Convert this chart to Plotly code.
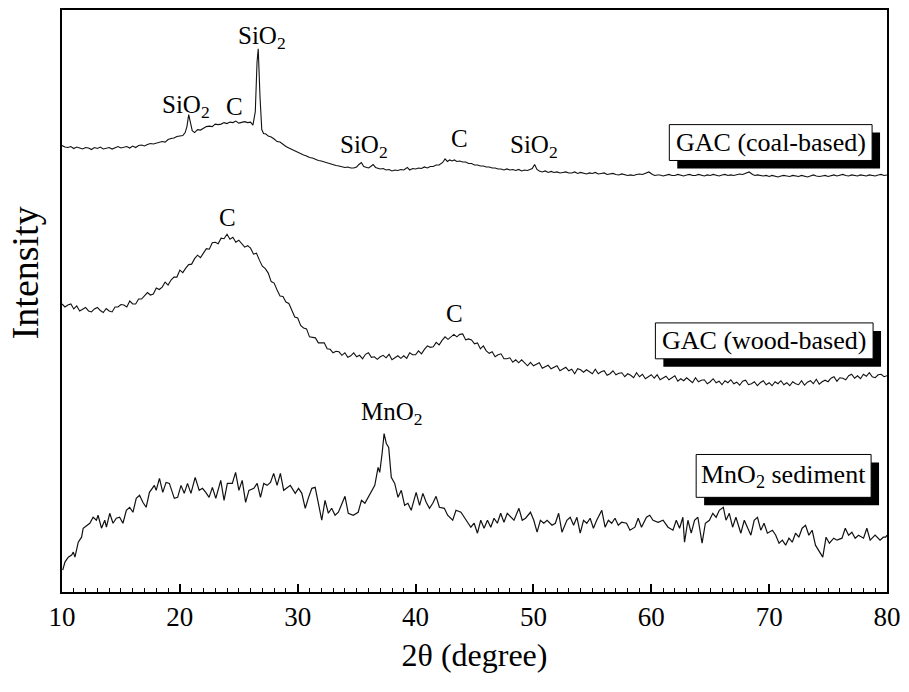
import plotly.graph_objects as go

# ---- XRD patterns: 2-theta (degree) and stacked intensity (arbitrary units) ----
coal_2theta = [
    10.0, 10.25, 10.5, 10.75, 11.0, 11.25, 11.5, 11.75,
    12.0, 12.25, 12.5, 12.75, 13.0, 13.25, 13.5, 13.75,
    14.0, 14.25, 14.5, 14.75, 15.0, 15.25, 15.5, 15.75,
    16.0, 16.25, 16.5, 16.75, 17.0, 17.25, 17.5, 17.75,
    18.0, 18.25, 18.5, 18.75, 19.0, 19.25, 19.5, 19.75,
    20.0, 20.25, 20.45, 20.6, 20.75, 20.9, 21.05, 21.25,
    21.5, 21.75, 22.0, 22.25, 22.5, 22.75, 23.0, 23.25,
    23.5, 23.75, 24.0, 24.25, 24.5, 24.75, 25.0, 25.25,
    25.5, 25.75, 26.0, 26.2, 26.4, 26.55, 26.65, 26.8,
    26.95, 27.1, 27.3, 27.5, 27.75, 28.0, 28.25, 28.5,
    28.75, 29.0, 29.25, 29.5, 29.75, 30.0, 30.25, 30.5,
    30.75, 31.0, 31.25, 31.5, 31.75, 32.0, 32.25, 32.5,
    32.75, 33.0, 33.25, 33.5, 33.75, 34.0, 34.25, 34.5,
    34.75, 35.0, 35.2, 35.4, 35.6, 35.8, 36.0, 36.2,
    36.4, 36.6, 36.8, 37.0, 37.25, 37.5, 37.75, 38.0,
    38.25, 38.5, 38.75, 39.0, 39.3, 39.5, 39.75, 40.0,
    40.25, 40.5, 40.75, 41.0, 41.25, 41.5, 41.75, 42.0,
    42.3, 42.5, 42.7, 42.9, 43.1, 43.3, 43.5, 43.75,
    44.0, 44.25, 44.5, 44.75, 45.0, 45.25, 45.5, 45.75,
    46.0, 46.25, 46.5, 46.75, 47.0, 47.25, 47.5, 47.75,
    48.0, 48.25, 48.5, 48.75, 49.0, 49.25, 49.5, 49.75,
    49.9, 50.1, 50.3, 50.5, 50.75, 51.0, 51.25, 51.5,
    51.75, 52.0, 52.25, 52.5, 52.75, 53.0, 53.25, 53.5,
    53.75, 54.0, 54.25, 54.5, 54.75, 55.0, 55.25, 55.5,
    55.75, 56.0, 56.25, 56.5, 56.75, 57.0, 57.25, 57.5,
    57.75, 58.0, 58.25, 58.5, 58.75, 59.0, 59.25, 59.5,
    59.8, 60.1, 60.3, 60.5, 60.75, 61.0, 61.25, 61.5,
    61.75, 62.0, 62.25, 62.5, 62.75, 63.0, 63.25, 63.5,
    63.75, 64.0, 64.25, 64.5, 64.75, 65.0, 65.25, 65.5,
    65.75, 66.0, 66.25, 66.5, 66.75, 67.0, 67.25, 67.5,
    67.75, 68.0, 68.3, 68.6, 68.8, 69.0, 69.25, 69.5,
    69.75, 70.0, 70.25, 70.5, 70.75, 71.0, 71.25, 71.5,
    71.75, 72.0, 72.25, 72.5, 72.75, 73.0, 73.25, 73.5,
    73.75, 74.0, 74.25, 74.5, 74.75, 75.0, 75.25, 75.5,
    75.75, 76.0, 76.25, 76.5, 76.75, 77.0, 77.25, 77.5,
    77.75, 78.0, 78.25, 78.5, 78.75, 79.0, 79.25, 79.5,
    79.75, 80.0]
coal_intensity = [
    448, 446.5, 446, 447, 445, 446.5, 445.5, 444.5,
    446, 445.5, 444, 446, 445, 446.5, 444.5, 445,
    446, 444.5, 445.5, 447, 445.5, 446.5, 447, 445.5,
    447.5, 446, 448, 448.5, 447.5, 449, 450, 449.5,
    450.5, 451.5, 452, 451.5, 454, 455, 455.5, 457,
    457.5, 458, 461, 467, 479, 470, 463, 461,
    464, 463.5, 465.5, 467, 467.5, 467, 469.5, 469,
    469.5, 471, 470, 471.5, 471, 472.5, 470.5, 471.5,
    472, 471, 471.5, 468.5, 482, 532, 545, 497,
    464, 460, 459.5, 457.5, 456.5, 454.5, 452, 451.5,
    449, 447, 445.5, 444, 442.5, 441, 440, 438.5,
    437.5, 436, 435.5, 434, 433, 432.5, 431.5, 430.5,
    430, 429, 428, 427.5, 426.5, 426, 426.5, 425.5,
    425.5, 426.5, 429, 431, 427, 426.5, 425.5, 427,
    429, 426, 425.5, 424.5, 425, 423.5, 424, 422.5,
    423.5, 423, 424, 423.5, 426, 423.5, 425, 424.5,
    425.5, 425, 426.5, 425.5, 427, 427, 428.5, 428.5,
    431, 434.5, 432, 433.5, 432.5, 433.5, 432, 432.5,
    431.5, 431.5, 430, 430, 428.5, 428.5, 427.5, 427.5,
    426.5, 426.5, 425.5, 425.5, 424.5, 424.5, 423.5, 424.5,
    423.5, 424, 423, 424, 422.5, 423.5, 423, 424,
    425, 429, 424, 422.5, 421.5, 422.5, 421, 422,
    421, 421.5, 420.5, 421, 421.5, 420.5, 420.5, 421.5,
    420, 421, 420.5, 419.5, 420.5, 420, 421, 419.5,
    420, 420.5, 419, 419.5, 420, 419, 418.5, 419.5,
    419, 418, 418.5, 418, 419, 419.5, 419, 420,
    421.5, 419, 418, 418.5, 418.5, 417.5, 418.5, 419,
    418, 418, 419, 418, 417.5, 418.5, 419, 418,
    418, 419, 418.5, 417.5, 418.5, 418, 419, 418.5,
    417.5, 418.5, 419, 418, 418.5, 418, 419, 419.5,
    419, 420, 421.5, 419, 418, 418.5, 418, 417.5,
    418, 417, 418, 417.5, 416.5, 417.5, 418, 417.5,
    417, 418, 417.5, 417, 418, 417.5, 416.5, 417.5,
    418.5, 417.5, 417, 417.5, 418, 417, 418, 418.5,
    417.5, 418, 419, 418, 417.5, 418.5, 418, 417.5,
    418.5, 418, 417.5, 418.5, 418, 417.5, 418.5, 419,
    418, 418.5]

# wood-based GAC, recorded from 10 degree in 0.25 degree steps
wood_start, wood_step = 10.0, 0.25
wood_intensity = [
    289, 286, 288, 289, 284, 287, 282, 284,                 # 10-11.75
    285.5, 282, 281, 284, 285.5, 282.5, 280.5, 284.5,       # 12-13.75
    282, 281, 286, 286, 288.5, 288, 286, 292,               # 14-15.75
    289, 289, 294, 294, 297, 300.5, 298, 299,               # 16-17.75
    305, 303.5, 306, 311, 308, 313, 316, 316,               # 18-19.75
    323, 320.5, 325, 328.5, 329, 334.5, 338, 335.5,         # 20-21.75
    340, 344.5, 344, 350.5, 351, 349.5, 355, 354.5,         # 22-23.75
    359, 354, 356, 351, 353, 350, 346, 347.5,               # 24-25.75
    345, 339, 340, 333, 327, 324.5, 320, 311.5,             # 26-27.75
    310, 303, 297, 296.5, 291, 289.5, 283, 276,             # 28-29.75
    275, 267.5, 265, 264, 256, 255.5, 255, 250,             # 30-31.75
    250, 250, 244, 243.5, 240, 241.5, 241, 237.5,           # 32-33.75
    240, 235.5, 237, 240, 236, 237.5, 234, 238.5,           # 34-35.75
    240, 235.5, 236, 233.5, 236, 237.5, 235, 238.5,         # 36-37.75
    233, 235, 237, 234.5, 237, 234.5, 240, 238,             # 38-39.75
    238, 242, 239, 243.5, 247, 245.5, 246, 250.5,           # 40-41.75
    248, 252.5, 256, 253.5, 256, 258.5, 256, 258.5,         # 42-43.75
    259, 253, 254, 253, 249, 250, 244, 247,                 # 44-45.75
    242, 239.5, 241, 236, 238, 239, 234, 234,               # 46-47.75
    235, 230.5, 233, 230, 233, 229.5, 227, 230.5,           # 48-49.75
    227, 228.5, 230, 224.5, 226, 227.5, 224, 225.5,         # 50-51.75
    227, 222, 224, 225.5, 222, 223.5, 219, 224,             # 52-53.75
    223, 220.5, 223, 221, 219, 223.5, 219, 221,             # 54-55.75
    222, 217.5, 219, 222, 218, 219.5, 220, 216,             # 56-57.75
    219, 217.5, 215, 220, 216, 218.5, 214, 216,             # 58-59.75
    218, 214.5, 218, 213, 215, 216.5, 213, 215,             # 60-61.75
    217, 211.5, 214, 212, 215, 212.5, 210, 215,             # 62-63.75
    211, 212.5, 213, 209, 211, 214, 210, 211.5,             # 64-65.75
    208, 212, 210, 213, 209, 210.5, 207.5, 211.5,           # 66-67.75
    212.5, 208, 209, 211, 207, 210, 212, 208,               # 68-69.75
    210, 207, 211, 209, 212, 208, 210, 207,                 # 70-71.75
    211, 209, 208, 212, 207.5, 210.5, 212, 209,             # 72-73.75
    213.5, 208.5, 211, 212.5, 211, 214.5, 216, 211.5,       # 74-75.75
    215, 214.5, 213, 217, 218.5, 214.5, 217, 214,           # 76-77.75
    218.5, 216.5, 220, 216, 215, 218, 218.5, 216,           # 78-79.75
    217]
wood_2theta = [wood_start + wood_step * i for i in range(len(wood_intensity))]

mno2_2theta = [10.06, 10.25, 10.53, 10.82, 10.96, 11.10, 11.38, 11.66, 11.80, 12.08, 12.36, 12.64,
               12.92, 13.06, 13.35, 13.63, 13.77, 14.05, 14.33, 14.61, 14.89, 15.17, 15.46, 15.74,
               16.02, 16.30, 16.58, 16.86, 17.14, 17.42, 17.84, 17.99, 18.27, 18.55, 18.83, 19.11,
               19.53, 19.81, 20.10, 20.37, 20.65, 20.94, 21.30, 21.64, 21.92, 22.20, 22.48, 22.76,
               23.05, 23.47, 23.75, 24.03, 24.45, 24.73, 25.01, 25.29, 25.58, 25.86, 26.28, 26.56,
               26.84, 27.12, 27.40, 27.69, 27.96, 28.25, 28.53, 28.81, 29.09, 29.37, 29.79, 30.07,
               30.35, 30.64, 30.92, 31.20, 31.48, 31.76, 32.04, 32.32, 32.60, 32.88, 33.17, 33.45,
               33.73, 34.01, 34.29, 34.71, 35.13, 35.41, 35.70, 35.98, 36.26, 36.54, 36.82, 36.96,
               37.16, 37.33, 37.52, 37.72, 37.94, 38.23, 38.51, 38.79, 39.07, 39.35, 39.63, 40.05,
               40.34, 40.62, 40.90, 41.18, 41.46, 41.74, 42.02, 42.44, 42.72, 43.15, 43.43, 43.85,
               44.13, 44.41, 44.69, 44.97, 45.25, 45.53, 45.81, 46.10, 46.38, 46.66, 46.94, 47.22,
               47.50, 47.78, 48.06, 48.35, 48.77, 49.05, 49.33, 49.75, 50.03, 50.31, 50.59, 50.88,
               51.16, 51.58, 51.86, 52.14, 52.42, 52.84, 53.12, 53.41, 53.69, 53.97, 54.25, 54.53,
               54.81, 55.09, 55.37, 55.80, 56.08, 56.36, 56.64, 56.92, 57.20, 57.48, 57.90, 58.19,
               58.61, 58.89, 59.17, 59.59, 59.87, 60.15, 60.58, 61.00, 61.42, 61.84, 62.12, 62.40,
               62.68, 62.82, 63.11, 63.39, 63.67, 63.95, 64.31, 64.59, 64.93, 65.22, 65.50, 65.77,
               66.11, 66.34, 66.62, 66.90, 67.18, 67.60, 67.89, 68.17, 68.45, 68.73, 69.01, 69.29,
               69.57, 69.85, 70.28, 70.56, 70.84, 71.12, 71.40, 71.68, 71.96, 72.24, 72.52, 72.80,
               73.09, 73.37, 73.65, 73.93, 74.27, 74.55, 74.83, 75.11, 75.48, 75.76, 76.18, 76.46,
               76.74, 77.02, 77.30, 77.58, 78.01, 78.29, 78.57, 78.99, 79.41, 79.69, 79.89, 80.00]
mno2_intensity = [22, 30, 35, 37, 40, 35, 50, 55, 64, 67, 69, 75,
                  72, 77, 64, 72, 65, 79, 69, 74, 75, 69, 82, 85,
                  80, 94, 97, 90, 85, 100, 107, 102, 114, 100, 110, 109,
                  94, 95, 107, 99, 109, 99, 115, 102, 104, 100, 95, 105,
                  94, 112, 92, 109, 109, 120, 102, 112, 90, 102, 104, 109,
                  95, 109, 107, 110, 119, 107, 119, 102, 105, 107, 99, 104,
                  99, 84, 95, 104, 105, 89, 72, 92, 79, 84, 77, 80,
                  89, 96, 79, 77, 80, 92, 89, 95, 100, 107, 125, 120,
                  139, 159, 149, 145, 115, 109, 95, 102, 87, 89, 82, 100,
                  87, 99, 90, 84, 89, 96, 85, 84, 77, 72, 82, 80,
                  75, 70, 65, 69, 59, 72, 64, 72, 65, 74, 69, 79,
                  70, 79, 75, 72, 84, 72, 74, 80, 72, 60, 72, 69,
                  72, 67, 69, 79, 60, 72, 75, 67, 75, 59, 72, 69,
                  74, 64, 72, 82, 65, 72, 69, 74, 67, 70, 69, 62,
                  65, 74, 65, 75, 77, 72, 70, 72, 65, 62, 72, 64,
                  75, 50, 72, 59, 72, 75, 49, 69, 72, 79, 75, 82,
                  85, 72, 79, 65, 75, 59, 72, 65, 57, 72, 75, 62,
                  69, 59, 62, 57, 49, 52, 47, 54, 50, 59, 55, 64,
                  67, 57, 62, 47, 40, 35, 55, 49, 54, 52, 54, 64,
                  57, 60, 54, 57, 54, 64, 52, 57, 52, 55, 55, 57]

sample_names = ["GAC (coal-based)", "GAC (wood-based)", "MnO<sub>2</sub> sediment"]

# ---- figure geometry (pixels) ----
W, H = 909, 692
ML, MR, MT, MB = 62, 17, 8, 100
X_RANGE = [10, 80]
Y_RANGE = [0, 584]
PW, PH = W - ML - MR, H - MT - MB


def px_to_x(px):
    return X_RANGE[0] + (px - ML) * (X_RANGE[1] - X_RANGE[0]) / PW


def py_to_y(py):
    return Y_RANGE[0] + (H - MB - py) * (Y_RANGE[1] - Y_RANGE[0]) / PH


FONT = "Liberation Serif, Times New Roman, serif"
LINE = "#111111"

fig = go.Figure()
for xs, ys, w in [(coal_2theta, coal_intensity, 1.1),
                  (wood_2theta, wood_intensity, 1.1),
                  (mno2_2theta, mno2_intensity, 1.2)]:
    fig.add_trace(go.Scatter(x=xs, y=ys, mode="lines",
                             line=dict(color=LINE, width=w), showlegend=False,
                             hoverinfo="skip"))

# phase labels above the reflections: (text, px centre, py centre)
phase_labels = [
    ("SiO<sub>2</sub>", 187, 105),
    ("C", 236, 105),
    ("SiO<sub>2</sub>", 263, 36),
    ("SiO<sub>2</sub>", 366, 145),
    ("C", 462, 137),
    ("SiO<sub>2</sub>", 537, 145),
    ("C", 229, 216),
    ("C", 457, 313),
    ("MnO<sub>2</sub>", 394, 413),
]
for txt, cx, cy in phase_labels:
    fig.add_annotation(x=px_to_x(cx), y=py_to_y(cy), text=txt, showarrow=False,
                       xanchor="center", yanchor="middle",
                       font=dict(family=FONT, size=25, color="black"))

# sample name boxes with drop shadow: (left, top, right, bottom) in pixels
boxes = [(673, 123, 877, 159), (659, 322, 878, 358), (700, 454, 876, 497)]
SH = 8
for name, (l, t, r, b) in zip(sample_names, boxes):
    fig.add_shape(type="rect", x0=px_to_x(l + SH), x1=px_to_x(r + SH),
                  y0=py_to_y(b + SH), y1=py_to_y(t + SH),
                  fillcolor="black", line=dict(width=0), layer="above")
    fig.add_shape(type="rect", x0=px_to_x(l), x1=px_to_x(r),
                  y0=py_to_y(b), y1=py_to_y(t),
                  fillcolor="white", line=dict(color="black", width=1), layer="above")
    fig.add_annotation(x=px_to_x((l + r) / 2), y=py_to_y((t + b) / 2), text=name,
                       showarrow=False, xanchor="center", yanchor="middle",
                       font=dict(family=FONT, size=26, color="black"))

# y-axis title
fig.add_annotation(xref="paper", yref="paper", x=(25 - ML) / PW, y=(H - MB - 272) / PH,
                   text="Intensity", textangle=-90, showarrow=False,
                   xanchor="center", yanchor="middle",
                   font=dict(family=FONT, size=38, color="black"))

fig.update_layout(
    width=W, height=H,
    margin=dict(l=ML, r=MR, t=MT, b=MB),
    paper_bgcolor="white", plot_bgcolor="white",
    font=dict(family=FONT, color="black"),
    xaxis=dict(range=X_RANGE, tick0=10, dtick=10, ticks="inside", ticklen=8,
               tickwidth=1.5, tickcolor="black", showline=True, linewidth=2,
               linecolor="black", mirror=True, showgrid=False, zeroline=False,
               tickfont=dict(family=FONT, size=27, color="black"),
               minor=dict(dtick=1, ticks="inside", ticklen=4, tickwidth=1,
                          tickcolor="black", showgrid=False),
               title=dict(text="2θ (degree)", standoff=12,
                          font=dict(family=FONT, size=32, color="black"))),
    yaxis=dict(range=Y_RANGE, showticklabels=False, ticks="", showline=True,
               linewidth=2, linecolor="black", mirror=True, showgrid=False,
               zeroline=False),
)

fig.write_html("out.html")
